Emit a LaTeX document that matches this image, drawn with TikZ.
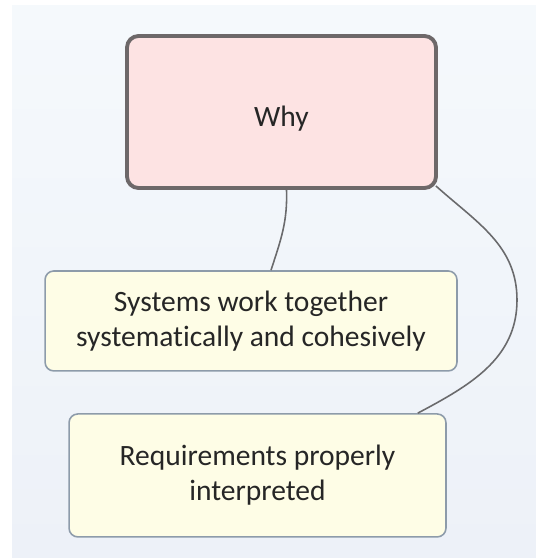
\documentclass[tikz,border=0pt]{standalone}
\usepackage{fontspec}
\setmainfont{Carlito}[Ligatures=NoCommon]
\usetikzlibrary{positioning}

\definecolor{whyfill}{HTML}{FDE3E3}
\definecolor{whyline}{HTML}{6D6869}
\definecolor{ideafill}{HTML}{FEFDE6}
\definecolor{idealine}{HTML}{8D9BAA}
\definecolor{linkline}{HTML}{6A6A6C}
\definecolor{bgtop}{HTML}{F5F9FC}
\definecolor{bgbottom}{HTML}{EDF1F8}

\begin{document}
\begin{tikzpicture}[x=0.02cm, y=-0.02cm, font=\fontsize{16.8}{20}\selectfont, text=black!85]
		\tikzstyle{why} = [rectangle, rounded corners=6.5pt, minimum width=6.18cm, minimum height=3.04cm, text height=20pt, text depth=3.5pt, align=center, draw=whyline, fill=whyfill, line width=2.2pt]
		
		\tikzstyle{idea} = [rectangle, rounded corners=5pt, minimum width=8.24cm, minimum height=2cm, align=center, draw=idealine, fill=ideafill, line width=0.9pt]
		
		\tikzstyle{link} = [draw=linkline, line width=0.9pt]
		
		% Background
		\useasboundingbox (0,0) rectangle (536,558);
		\shade[top color=bgtop, bottom color=bgbottom] (12,5) rectangle (536,558);
		
		% Top node
		\node (why) [why] at (281.5,112) {Why};
		
		% Level 1 nodes
		\node (systems) [idea, below of = why, node distance=4.18cm, xshift=-0.61cm] {Systems work together\\systematically and cohesively};
		\node (reqs) [idea, below of = systems, node distance=3.09cm, xshift=0.13cm, minimum width=7.54cm, minimum height=2.46cm] {Requirements properly\\interpreted};
		
		% Links
		\draw [link] ([xshift=0.1cm]why.south) to[out=-88, in=72] ([xshift=0.4cm]systems.north);
		\draw [link] ([shift={(-0.04cm,0.08cm)}]why.south east) to[out=-42, in=90] (517,300) to[out=-90, in=28] ([xshift=-0.58cm]reqs.north east);
	\end{tikzpicture}
\end{document}
